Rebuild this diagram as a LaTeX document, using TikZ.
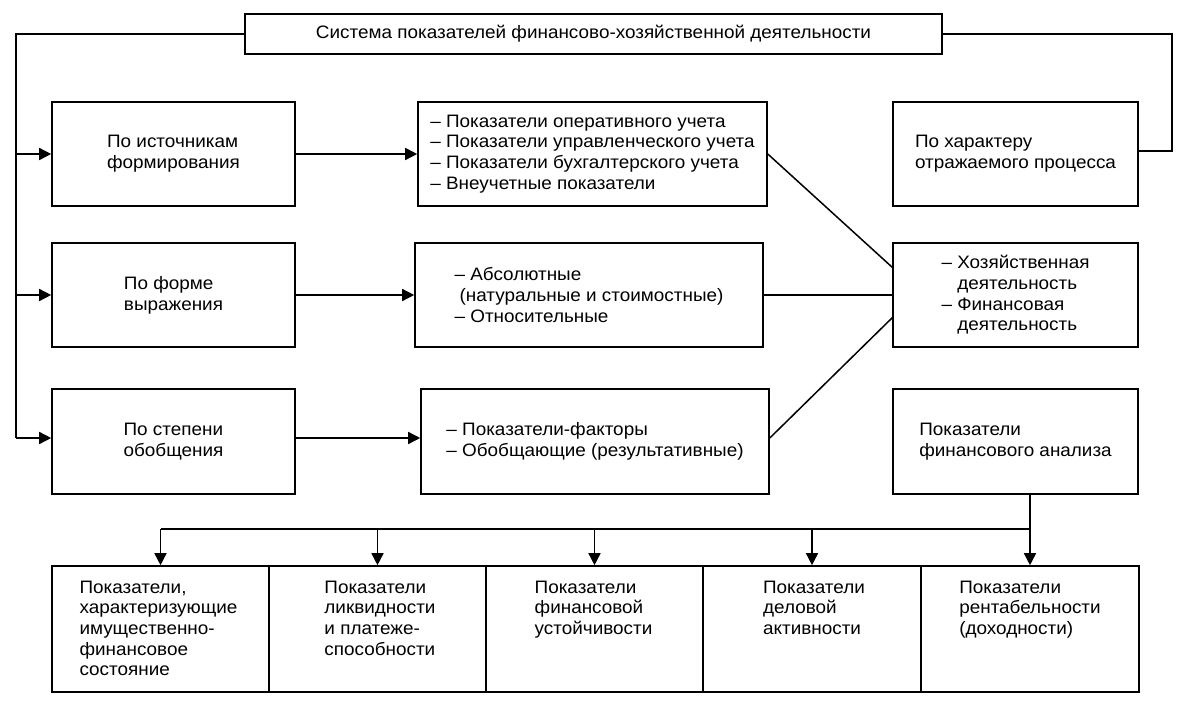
\documentclass[tikz,border=0pt]{standalone}
\usepackage{fontspec}
\setmainfont{Liberation Sans}[FakeStretch=1.05]
\usetikzlibrary{arrows.meta}
\newcommand{\fs}{\fontsize{18}{20.7}\selectfont}
\begin{document}
\begin{tikzpicture}[x=1pt,y=-1pt,
  box/.style={draw, line width=1.6pt, rectangle, inner sep=0pt, align=left, font=\fs},
  txt/.style={inner sep=0pt, align=left, font=\fs, anchor=north},
  ln/.style={line width=1.5pt},
  arr/.style={ln, -{Triangle[length=12pt,width=12pt]}}]
\useasboundingbox (0,0) rectangle (1178,701);
% top
\node[box, minimum width=697pt, minimum height=40pt] (top) at (593.5,34) {Система показателей финансово-хозяйственной деятельности};
% row 1
\node[box, minimum width=243pt, minimum height=104pt] (b1) at (173.5,154) {По источникам\\формирования};
\node[box, minimum width=349pt, minimum height=104pt] (l1) at (592.5,154) {– Показатели оперативного учета\\– Показатели управленческого учета\\– Показатели бухгалтерского учета\\– Внеучетные показатели};
\node[box, minimum width=245pt, minimum height=104pt] (bx) at (1015.5,154) {По характеру\\отражаемого процесса};
% row 2
\node[box, minimum width=243pt, minimum height=104pt] (b2) at (173.5,295) {По форме\\выражения};
\node[box, minimum width=348pt, minimum height=104pt] (l2) at (589,295) {– Абсолютные\\\hspace{5pt}(натуральные и стоимостные)\\– Относительные};
\node[box, minimum width=245pt, minimum height=104pt] (hz) at (1015.5,295) {– Хозяйственная\\\phantom{– }деятельность\\– Финансовая\\\phantom{– }деятельность};
% row 3
\node[box, minimum width=243pt, minimum height=105pt] (b3) at (173.5,441.5) {По степени\\обобщения};
\node[box, minimum width=348pt, minimum height=105pt] (l3) at (595,441.5) {– Показатели-факторы\\– Обобщающие (результативные)};
\node[box, minimum width=245pt, minimum height=105pt] (fa) at (1015.5,441.5) {Показатели\\финансового анализа};
% bottom row
\node[box, minimum width=217pt, minimum height=126pt] (c1) at (160.5,629) {};
\node[box, minimum width=217pt, minimum height=126pt] (c2) at (377.5,629) {};
\node[box, minimum width=217pt, minimum height=126pt] (c3) at (594.5,629) {};
\node[box, minimum width=218pt, minimum height=126pt] (c4) at (812,629) {};
\node[box, minimum width=218pt, minimum height=126pt] (c5) at (1030,629) {};
\node[txt] (t1) at (158.5,580.5) {Показатели,\\характеризующие\\имущественно-\\финансовое\\состояние};
\node[txt] (t2) at (380,580.5) {Показатели\\ликвидности\\и платеже-\\способности};
\node[txt] (t3) at (593.5,580.5) {Показатели\\финансовой\\устойчивости};
\node[txt] (t4) at (814,580.5) {Показатели\\деловой\\активности};
\node[txt] (t5) at (1030,580.5) {Показатели\\рентабельности\\(доходности)};
% left tree
\coordinate (L0) at (16,34);
\coordinate (L1) at (16,154);
\coordinate (L2) at (16,295);
\coordinate (L3) at (16,438);
\draw[ln] (top.west) -- (L0) -- (L3);
\draw[arr] (L1) -- (b1.west);
\draw[arr] (L2) -- (b2.west);
\draw[arr] (L3) -- (L3 -| b3.west);
% right link
\coordinate (R0) at (1172,34);
\coordinate (R1) at (1172,151);
\draw[ln] (top.east) -- (R0) -- (R1) -- (R1 -| bx.east);
% horizontal arrows
\draw[arr] (b1.east) -- (l1.west);
\draw[arr] (b2.east) -- (l2.west);
\draw[arr] (L3 -| b3.east) -- (L3 -| l3.west);
% to hz
\coordinate (H1) at (893,268);
\coordinate (H3) at (893,317);
\draw[ln] (l1.east) -- (H1);
\draw[ln] (l2.east) -- (hz.west);
\draw[ln] (L3 -| l3.east) -- (H3);
% bottom bus
\coordinate (F0) at (1030,494);
\coordinate (B5) at (1030,529);
\coordinate (B1) at (160.5,529);
\draw[ln] (F0) -- (B5) -- (B1);
\draw[arr] (B1) -- (c1.north);
\draw[arr] (B1 -| c2.north) -- (c2.north);
\draw[arr] (B1 -| c3.north) -- (c3.north);
\draw[arr] (B1 -| c4.north) -- (c4.north);
\draw[arr] (B5) -- (c5.north);
\end{tikzpicture}
\end{document}
